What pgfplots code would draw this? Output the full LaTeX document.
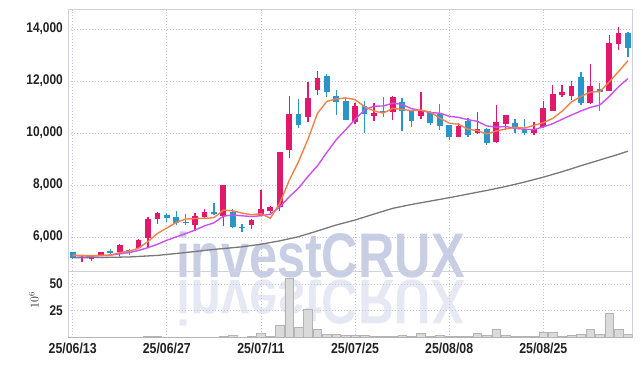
\documentclass[border=0pt]{standalone}
\usepackage{pgfplots}
\pgfplotsset{compat=1.18}
\usepackage{pgfplotstable}
\usepackage{fontspec}
\setmainfont{Liberation Sans}
\newfontfamily\tickfont[FakeStretch=0.85]{Liberation Sans Bold}
\newfontfamily\wmfont[FakeStretch=0.8]{Liberation Sans Bold}
\definecolor{upc}{RGB}{226,24,108}
\definecolor{downc}{RGB}{42,150,200}
\definecolor{ma5c}{RGB}{240,130,72}
\definecolor{ma10c}{RGB}{204,80,240}
\definecolor{ma60c}{RGB}{120,120,120}
\definecolor{gridc}{RGB}{196,196,214}
\definecolor{framec}{RGB}{208,208,222}
\definecolor{volfill}{RGB}{218,218,218}
\definecolor{voldraw}{RGB}{180,180,180}
\definecolor{wmc}{RGB}{200,206,228}
\definecolor{wmr}{RGB}{230,233,243}
\definecolor{tickc}{RGB}{34,34,34}

\pgfplotstableread{
i O H L C
1 5180 5250 5030 5240
2 5140 5320 5080 5300
3 5280 5430 5270 5410
5 5410 5730 5280 5690
7 5590 5940 5570 5880
8 5950 6780 5630 6690
9 6680 6960 6500 6930
13 6470 6910 6240 6800
14 6780 7060 6720 6960
16 6810 8010 6420 8000
19 6450 6690 6300 6650
20 6800 7800 6790 7060
21 7000 7200 6940 7150
22 7170 9280 7000 9260
23 9350 11420 9030 10730
25 10630 11950 10440 11350
26 11650 12400 11460 12100
30 10440 11170 10340 11040
32 10670 11170 10460 10770
34 10800 11420 10500 11400
37 10670 11590 10540 10880
41 9860 10400 9830 10270
43 9990 10820 9960 10140
45 9660 11080 9620 10420
46 10340 10700 10120 10690
49 10010 10440 9920 10140
50 10220 11240 10200 10950
51 10860 11850 10830 11500
52 11460 11830 11370 11590
53 11420 11990 11270 11810
55 11140 12640 11120 11810
57 11630 13770 11600 13450
58 13420 14070 13190 13830
}\uptable

\pgfplotstableread{
i O H L C
0 5410 5430 5170 5180
4 5460 5550 5330 5370
6 5510 5540 5310 5470
10 6830 6910 6570 6740
11 6760 7010 6460 6550
12 6590 6870 6460 6530
15 6960 7300 6850 6870
17 6970 7060 6330 6400
18 6380 6490 6200 6340
24 10730 11300 10180 10310
27 12190 12260 11400 11590
28 11420 11650 10690 11200
29 11240 11370 10480 10500
31 11040 11240 10010 10730
33 10830 11400 10620 10790
35 11190 11330 10080 10860
36 10880 10900 10220 10470
38 10820 10850 10310 10400
39 10730 11120 10120 10280
40 10310 10320 9730 9860
42 10460 10570 9830 9910
44 10160 10180 9530 9630
47 10380 10530 9990 10190
48 10120 10530 9920 10010
54 12140 12330 11080 11170
56 11690 11910 10860 11570
59 13830 13870 12910 13260
}\downtable

\pgfplotstableread{
i ma5 ma10
0 5300 5280
1 5290 5270
2 5280 5260
3 5290 5280
4 5300 5300
5 5402 5350
6 5450 5400
7 5566 5480
8 5822 5590
9 6134 5717
10 6344 5873
11 6558 6004
12 6688 6127
13 6710 6266
14 6716 6425
15 6742 6543
16 7032 6795
17 7006 6847
18 6916 6813
19 6854 6785
20 6892 6817
21 6722 6877
22 7294 7150
23 8170 7543
24 8902 7878
25 9760 8326
26 10750 8736
27 11216 9255
28 11310 9740
29 11348 10125
30 11286 10523
31 11012 10881
32 10848 11032
33 10766 11038
34 10946 11147
35 10910 11098
36 10858 10935
37 10880 10864
38 10802 10784
39 10578 10762
40 10378 10644
41 10338 10598
42 10144 10512
43 10092 10447
44 9962 10270
45 10074 10226
46 10158 10248
47 10214 10179
48 10188 10140
49 10290 10126
50 10396 10235
51 10558 10358
52 10838 10526
53 11198 10693
54 11404 10847
55 11576 10986
56 11590 11074
57 11962 11400
58 12366 11782
59 12784 12094
}\matable

\pgfplotstableread{
i v
0 5200
3 5210
6 5230
9 5290
12 5400
15 5520
18 5620
20 5720
22 5850
24 6010
26 6230
28 6460
30 6650
32 6880
34 7100
36 7250
38 7380
40 7510
42 7650
44 7790
46 7940
48 8110
50 8300
52 8510
54 8740
56 8960
58 9180
59 9300
}\malong

\pgfplotstableread{
i v
0 0.3
1 0.3
2 0.3
3 0.3
4 0.3
5 0.4
6 0.3
7 0.4
8 0.9
9 0.9
10 0.3
11 0.3
12 0.3
13 0.3
14 0.3
15 0.4
16 1.2
17 2.0
18 0.5
19 1.0
20 4.0
21 1.0
22 11
23 55
24 9.5
25 26
26 7.5
27 3
28 3
29 2
30 2
31 2
32 1
33 1
34 1.2
35 2
36 1
37 4
38 1.2
39 2
40 1
41 1
42 1
43 4
44 2
45 8
46 2
47 1
48 1
49 1.2
50 5
51 5
52 1
53 2
54 3
55 7.5
56 3
57 23
58 7.5
59 3
}\voltable

\pgfplotsset{
  candlestyle/.style={
    tick style={draw=none},
    axis line style={draw=framec, line width=0.8bp},
    major grid style={draw=gridc, line width=0.7bp, dash pattern=on 1bp off 2bp},
    xmajorgrids, ymajorgrids,
    scaled y ticks=false, scaled x ticks=false,
    xmin=-0.5, xmax=59.5,
    scale only axis,
    width=564.7bp,
    xtick={0,10,20,30,40,50},
    yticklabel style={font=\tickfont\fontsize{14bp}{14bp}\selectfont, text=tickc, inner sep=0pt, xshift=-5bp},
    xticklabel style={font=\tickfont\fontsize{14.5bp}{14bp}\selectfont, text=tickc, inner sep=0pt, yshift=-5bp},
  }
}

\begin{document}
\begin{tikzpicture}
\useasboundingbox (0,0) rectangle (642bp,-366bp);
% watermark
\node[anchor=base west, inner sep=0pt, text=wmr, yscale=-1, transform shape,
  font=\wmfont\fontsize{63bp}{63bp}\selectfont] at (176bp,-280bp) {investCRUX};
\node[anchor=base west, inner sep=0pt, text=wmc,
  font=\wmfont\fontsize{63bp}{63bp}\selectfont] at (176bp,-277bp) {investCRUX};

\begin{axis}[candlestyle,
  at={(68bp,-9.5bp)}, anchor=north west,
  height=261.5bp,
  ymin=4690, ymax=14750,
  ytick={6000,8000,10000,12000,14000},
  yticklabels={{6,000},{8,000},{10,000},{12,000},{14,000}},
  xticklabels={},
]
% wicks
\addplot[draw=none, mark=none, forget plot,
  error bars/.cd, y dir=plus, y explicit, error mark=none,
  error bar style={draw=upc, line width=1.3bp, solid}]
  table[x=i, y=L, y error expr=\thisrow{H}-\thisrow{L}] {\uptable};
\addplot[draw=none, mark=none, forget plot,
  error bars/.cd, y dir=plus, y explicit, error mark=none,
  error bar style={draw=downc, line width=1.3bp, solid}]
  table[x=i, y=L, y error expr=\thisrow{H}-\thisrow{L}] {\downtable};
% bodies
\addplot[draw=none, mark=none, forget plot,
  error bars/.cd, y dir=plus, y explicit, error mark=none,
  error bar style={draw=upc, line width=5.8bp, solid}]
  table[x=i, y=O, y error expr=\thisrow{C}-\thisrow{O}] {\uptable};
\addplot[draw=none, mark=none, forget plot,
  error bars/.cd, y dir=plus, y explicit, error mark=none,
  error bar style={draw=downc, line width=5.8bp, solid}]
  table[x=i, y=C, y error expr=\thisrow{O}-\thisrow{C}] {\downtable};
% moving averages
\addplot[ma60c, line width=1.3bp, mark=none] table[x=i, y=v] {\malong};
\addplot[ma10c, line width=1.4bp, mark=none] table[x=i, y=ma10] {\matable};
\addplot[ma5c, line width=1.4bp, mark=none] table[x=i, y=ma5] {\matable};
\end{axis}

\begin{axis}[candlestyle,
  at={(68bp,-271bp)}, anchor=north west,
  height=66.5bp,
  ymin=0, ymax=62,
  ytick={25,50},
  yticklabels={25,50},
  xticklabels={25/06/13,25/06/27,25/07/11,25/07/25,25/08/08,25/08/25},
]
\addplot[ybar, bar width=8.6bp, fill=volfill, draw=voldraw, line width=0.5bp]
  table[x=i, y=v] {\voltable};
\end{axis}

\node[rotate=90, inner sep=0pt, text=tickc, font=\fontsize{12bp}{12bp}\selectfont] at (34bp,-300bp) {$10^{6}$};
\end{tikzpicture}
\end{document}
